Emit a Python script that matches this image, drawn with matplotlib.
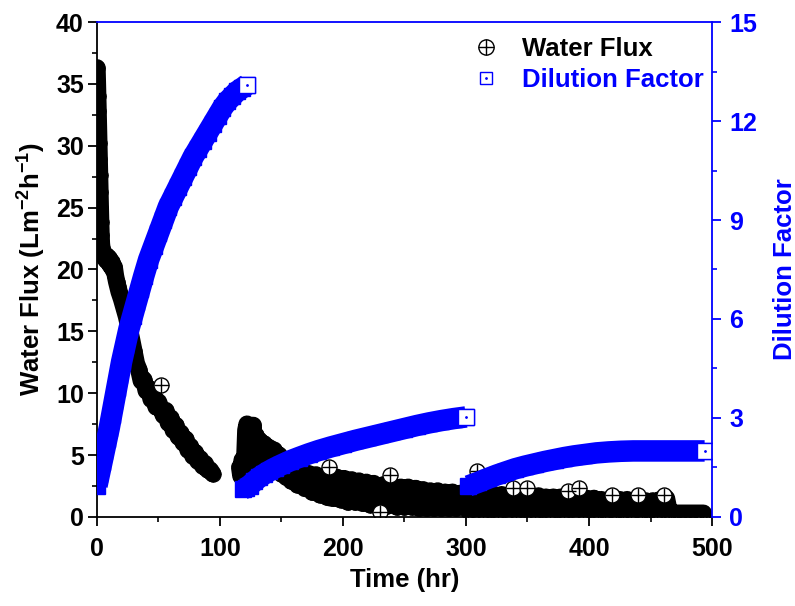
import matplotlib
matplotlib.use("Agg")
import matplotlib.pyplot as plt
from matplotlib.lines import Line2D
from matplotlib.ticker import MultipleLocator

plt.rcParams.update({
    "font.family": ["Liberation Sans", "DejaVu Sans"],
    "font.weight": "bold",
    "font.size": 18.5,
    "xtick.labelsize": 18,
    "ytick.labelsize": 18,
    "axes.labelweight": "bold",
    "mathtext.fontset": "custom",
    "mathtext.rm": "Liberation Sans:bold",
    "mathtext.bf": "Liberation Sans:bold",
    "mathtext.default": "bf",
})

BLUE = "#0000FF"

# ---- water flux (Lm-2h-1), three runs ----
flux1_t = [0.0, 0.3, 0.6, 0.9, 1.2, 1.5, 1.8, 2.1, 2.4, 2.7, 3.0, 3.3, 3.6, 4, 5, 6, 7, 8,
           9, 10, 11, 12, 13, 14, 15, 16, 17, 18, 20, 22, 24, 26, 28, 30, 32, 34, 36, 38,
           40, 42, 44, 46, 48, 50, 54, 56, 58, 60, 62, 64, 66, 68, 70, 72, 74, 76, 78, 80,
           82, 84, 86, 88, 90, 92, 94]
flux1 = [36.3, 35.2, 34.0, 32.8, 31.5, 30.2, 28.9, 27.6, 26.3, 25.0, 23.8, 22.8, 22.1, 21.7,
         21.4, 21.0, 20.8, 21.1, 20.6, 20.9, 20.3, 20.6, 20.0, 20.2, 19.5, 19.0, 18.6, 18.2,
         17.6, 16.9, 16.2, 15.3, 14.4, 13.4, 12.4, 11.9, 11.0, 11.1, 10.2, 10.4, 9.5, 9.8,
         8.9, 9.3, 8.2, 8.6, 7.6, 8.0, 7.0, 7.4, 6.5, 6.8, 6.0, 6.3, 5.4, 5.7, 4.9, 5.2,
         4.5, 4.7, 4.1, 4.3, 3.8, 3.8, 3.5]

flux2_t = [116, 117, 118, 119, 120, 121, 122, 123, 124, 125, 126, 127, 128, 129, 130, 132,
           134, 136, 138, 140, 142, 144, 146, 148, 150, 152, 154, 156, 158, 160, 163, 166,
           169, 172, 175, 178, 181, 184, 187, 192, 195, 198, 201, 204, 207, 210, 213, 216,
           219, 222, 225, 228, 233, 236, 241, 244, 247, 250, 253, 256, 259, 262, 265, 268,
           271, 274, 277, 280, 283, 286, 289, 292, 295, 298]
flux2 = [4.0, 3.3, 4.6, 3.6, 4.3, 7.0, 7.5, 3.4, 7.3, 4.5, 6.9, 7.4, 4.2, 6.6, 5.0, 6.2,
         4.4, 5.9, 4.2, 5.6, 4.0, 5.4, 3.8, 5.0, 3.5, 4.6, 3.2, 4.1, 2.9, 3.8, 2.6, 3.7,
         2.3, 3.5, 2.0, 3.4, 1.8, 3.3, 1.6, 1.5, 3.2, 1.4, 3.1, 1.2, 3.0, 1.2, 2.9, 1.1,
         2.8, 1.0, 2.7, 0.9, 2.6, 0.9, 2.5, 0.8, 2.4, 0.8, 2.4, 0.8, 2.3, 0.7, 2.2, 0.7,
         2.1, 0.7, 2.1, 0.7, 2.0, 0.7, 2.0, 0.7, 1.9, 0.8]

flux3_t = [300, 302, 304, 306, 311, 314, 317, 320, 323, 326, 329, 332, 335, 341, 344, 347,
           353, 356, 359, 362, 365, 368, 371, 374, 377, 380, 386, 389, 395, 398, 401, 404,
           407, 410, 413, 416, 422, 425, 428, 431, 434, 437, 443, 446, 449, 452, 455, 458,
           463, 465, 467, 470, 474, 478, 482, 486, 490, 493]
flux3 = [1.5, 0.5, 1.9, 0.6, 1.8, 0.5, 1.9, 0.6, 1.8, 0.5, 1.8, 0.6, 1.7, 0.5, 1.7, 0.6,
         1.6, 0.5, 1.7, 0.6, 1.6, 0.5, 1.6, 0.6, 1.6, 0.5, 0.6, 1.5, 0.5, 1.5, 0.6, 1.5,
         0.5, 1.4, 0.5, 1.4, 0.5, 1.4, 0.5, 1.4, 0.5, 1.3, 0.5, 1.3, 0.5, 1.3, 0.5, 1.4,
         1.5, 0.5, 0.3, 0.3, 0.3, 0.3, 0.3, 0.3, 0.3, 0.3]

# scattered flux points standing off the main band
flux_out_t = [52, 189, 230, 238, 309, 338, 350, 383, 392, 419, 440, 461]
flux_out = [10.7, 4.0, 0.4, 3.4, 3.7, 2.3, 2.3, 2.1, 2.3, 1.8, 1.8, 1.8]

# ---- dilution factor, three runs ----
dil1_t = [0, 2, 4, 6, 8, 10, 12, 14, 16, 18, 20, 23, 26, 29, 32, 35, 38, 42, 46, 50, 54,
          58, 62, 66, 70, 74, 78, 82, 86, 90, 94, 98, 102, 106, 110, 114, 118, 122]
dil1 = [0.95, 1.3, 1.65, 2.0, 2.35, 2.7, 3.1, 3.5, 3.9, 4.3, 4.7, 5.2, 5.7, 6.1, 6.5, 6.9,
        7.3, 7.8, 8.2, 8.6, 9.0, 9.4, 9.7, 10.0, 10.3, 10.6, 10.9, 11.15, 11.4, 11.65,
        11.9, 12.15, 12.4, 12.6, 12.75, 12.9, 13.0, 13.1]

dil2_t = [119, 121, 124, 128, 132, 136, 140, 145, 150, 157, 164, 172, 180, 190, 200, 210,
          220, 230, 240, 250, 260, 270, 280, 290, 300]
dil2 = [0.85, 0.88, 0.95, 1.08, 1.2, 1.3, 1.39, 1.49, 1.58, 1.7, 1.8, 1.91, 2.01, 2.12,
        2.22, 2.32, 2.41, 2.5, 2.59, 2.68, 2.77, 2.85, 2.92, 2.98, 3.03]

dil3_t = [302, 310, 318, 325, 332, 340, 348, 356, 364, 372, 380, 388, 396, 406, 416, 426,
          436, 448, 460, 472, 484, 494]
dil3 = [0.94, 1.05, 1.17, 1.27, 1.36, 1.46, 1.54, 1.61, 1.68, 1.74, 1.80, 1.85, 1.89,
        1.94, 1.97, 1.99, 2.0, 2.0, 2.0, 2.0, 2.0, 2.0]


fig = plt.figure(figsize=(7.95, 6.06), dpi=100)
ax = fig.add_axes([0.122, 0.147, 0.7736, 0.8166])
ax2 = ax.twinx()

MS_C = 10.8
MS_S = 12

for t, v in [(flux1_t, flux1), (flux2_t, flux2), (flux3_t, flux3)]:
    ax.plot(t, v, color="black", lw=12.5, solid_joinstyle="round", solid_capstyle="round")
    ax.plot(t, v, ls="none", marker="o", ms=MS_C, mfc="none", mec="black", mew=1.0)
    ax.plot(t, v, ls="none", marker="+", ms=MS_C, mec="black", mew=1.0)
ax.plot(flux_out_t, flux_out, ls="none", marker="o", ms=MS_C, mfc="white", mec="black", mew=1.0)
ax.plot(flux_out_t, flux_out, ls="none", marker="+", ms=MS_C, mec="black", mew=1.0)

for t, v in [(dil1_t, dil1), (dil2_t, dil2), (dil3_t, dil3)]:
    ax2.plot(t, v, color=BLUE, lw=15.5, solid_joinstyle="round", solid_capstyle="butt")
    ax2.plot(t, v, ls="none", marker="s", ms=MS_S, mfc=BLUE, mec=BLUE, mew=1.0)
    # last point shows the open square with its centre dot
    ax2.plot(t[-1], v[-1], ls="none", marker="s", ms=MS_S, mfc="white", mec=BLUE, mew=1.0)
    ax2.plot(t[-1], v[-1], ls="none", marker=".", ms=2, color=BLUE)

ax.set_xlim(0, 500)
ax.set_ylim(0, 40)
ax2.set_ylim(0, 15)

ax.xaxis.set_major_locator(MultipleLocator(100))
ax.xaxis.set_minor_locator(MultipleLocator(50))
ax.yaxis.set_major_locator(MultipleLocator(5))
ax.yaxis.set_minor_locator(MultipleLocator(2.5))
ax2.yaxis.set_major_locator(MultipleLocator(3))
ax2.yaxis.set_minor_locator(MultipleLocator(1.5))

ax.tick_params(which="major", direction="out", length=6.5, width=1.3, pad=3)
ax.tick_params(axis="x", which="major", pad=8)
ax.tick_params(which="minor", direction="out", length=3.5, width=1.2)
ax.tick_params(top=False, right=False, which="both")
ax2.tick_params(axis="y", which="major", direction="out", length=6.5, width=1.3, pad=6,
                colors=BLUE)
ax2.tick_params(axis="y", which="minor", direction="out", length=3.5, width=1.2,
                colors=BLUE)

for s in ["top", "right"]:
    ax.spines[s].set_visible(False)
for s in ["left", "bottom"]:
    ax.spines[s].set_linewidth(1.3)
    ax2.spines[s].set_visible(False)
for s in ["top", "right"]:
    ax2.spines[s].set_color(BLUE)
    ax2.spines[s].set_linewidth(1.3)

ax.set_xlabel("Time (hr)", labelpad=5)
ax.set_ylabel("Water Flux (Lm$^{-2}$h$^{-1}$)", labelpad=6)
ax2.set_ylabel("Dilution Factor", color=BLUE, labelpad=11)

h1 = (Line2D([], [], ls="none", marker="o", ms=11, mfc="none", mec="black", mew=1.0),
      Line2D([], [], ls="none", marker="+", ms=11, mec="black", mew=1.0))
h2 = (Line2D([], [], ls="none", marker="s", ms=8, mfc="none", mec=BLUE, mew=1.0),
      Line2D([], [], ls="none", marker=".", ms=2, color=BLUE))
leg = ax2.legend([h1, h2], ["Water Flux", "Dilution Factor"], loc="upper left",
                 bbox_to_anchor=(0.607, 0.969), frameon=False, numpoints=1,
                 handlelength=1.2, handletextpad=0.8, borderpad=0, borderaxespad=0,
                 labelspacing=0.27)
leg.get_texts()[1].set_color(BLUE)

fig.savefig("out.png", dpi=100)
